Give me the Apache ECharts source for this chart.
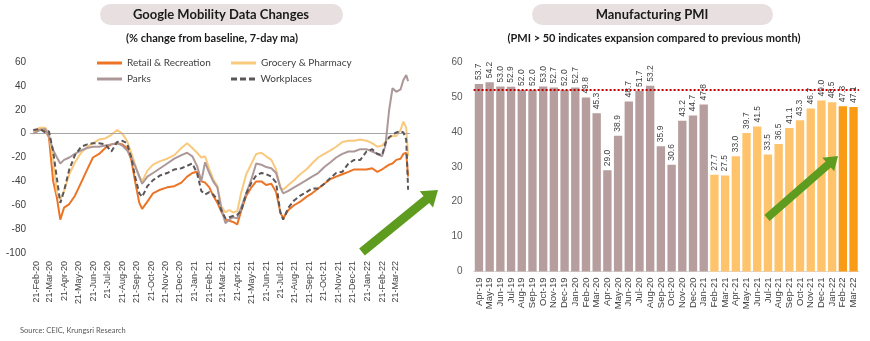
<!DOCTYPE html>
<html><head><meta charset="utf-8">
<script src="https://cdn.jsdelivr.net/npm/echarts@6/dist/echarts.min.js"></script>
<style>html,body{margin:0;padding:0;background:#fff;}#c{width:870px;height:341px;}</style>
</head><body><div id="c"></div>
<script>
// ---------- DATA ----------
const mobilityDates = ['2020-02-15','2020-02-29','2020-03-11','2020-03-19','2020-03-28','2020-04-05','2020-04-12','2020-04-20','2020-05-01','2020-05-13','2020-05-26','2020-06-08','2020-06-20','2020-07-03','2020-07-16','2020-07-29','2020-08-10','2020-08-21','2020-08-31','2020-09-09','2020-09-17','2020-09-26','2020-10-02','2020-10-13','2020-10-25','2020-11-09','2020-11-24','2020-12-09','2020-12-24','2021-01-05','2021-01-16','2021-01-26','2021-02-04','2021-02-12','2021-02-21','2021-03-01','2021-03-10','2021-03-18','2021-03-27','2021-04-04','2021-04-12','2021-04-21','2021-04-29','2021-05-10','2021-05-21','2021-05-31','2021-06-11','2021-06-21','2021-07-02','2021-07-12','2021-07-21','2021-07-27','2021-08-07','2021-08-19','2021-09-01','2021-09-14','2021-09-26','2021-10-09','2021-10-22','2021-11-04','2021-11-16','2021-11-29','2021-12-12','2021-12-24','2022-01-06','2022-01-19','2022-01-31','2022-02-11','2022-02-21','2022-02-28','2022-03-08','2022-03-15','2022-03-23','2022-04-01','2022-04-07','2022-04-13','2022-04-17'];
const retailRecreation = [2,4,3,-3,-40,-54,-72,-62,-59,-52,-41,-30,-20,-17,-12,-9,-8,-9,-12,-22,-40,-58,-63,-57,-50,-47,-45,-44,-41,-36,-33,-32,-40,-41,-45,-52,-58,-65,-72,-73,-74,-76,-65,-52,-45,-40,-40,-43,-42,-49,-66,-71,-64,-60,-57,-53,-50,-46,-42,-38,-36,-34,-32,-30,-30,-30,-29,-32,-30,-28,-26,-25,-22,-21,-17,-16,-36];
const groceryPharmacy = [2,5,5,0,-22,-50,-55,-48,-34,-24,-16,-11,-8,-5,-4,-1,3,0,-6,-16,-26,-36,-40,-31,-26,-23,-21,-18,-12,-8,-12,-16,-20,-19,-30,-38,-44,-61,-66,-64,-66,-65,-50,-34,-25,-17,-16,-19,-22,-30,-45,-47,-43,-39,-34,-30,-25,-20,-17,-14,-11,-7,-6,-6,-5,-6,-8,-11,-10,-7,-3,-2,-2,3,10,5,-19];
const parks = [0,3,4,-2,-14,-20,-25,-22,-20,-17,-14,-12,-11,-11,-10,-9,-8,-10,-14,-20,-27,-36,-42,-36,-33,-29,-25,-21,-18,-16,-19,-27,-40,-24,-33,-40,-45,-62,-75,-72,-70,-71,-62,-50,-38,-25,-26,-28,-29,-33,-45,-50,-48,-45,-42,-39,-36,-33,-28,-24,-20,-17,-15,-15,-13,-13,-15,-17,-19,-10,20,38,35,37,45,49,44];
const workplaces = [3,4,1,2,-15,-38,-58,-48,-30,-18,-11,-9,-8,-8,-9,-15,-7,-6,-8,-20,-36,-50,-53,-44,-39,-35,-33,-30,-29,-27,-25,-33,-48,-51,-49,-51,-55,-64,-71,-70,-69,-68,-65,-50,-41,-35,-33,-34,-36,-41,-66,-72,-62,-56,-52,-49,-46,-46,-42,-37,-33,-32,-25,-22,-22,-15,-13,-17,-18,-8,-3,-1,1,2,1,-5,-47];
const mobilityTickDates = ['2020-02-21','2020-03-21','2020-04-21','2020-05-21','2020-06-21','2020-07-21','2020-08-21','2020-09-21','2020-10-21','2020-11-21','2020-12-21','2021-01-21','2021-02-21','2021-03-21','2021-04-21','2021-05-21','2021-06-21','2021-07-21','2021-08-21','2021-09-21','2021-10-21','2021-11-21','2021-12-21','2022-01-21','2022-02-21','2022-03-21'];
const mobilitySeriesNames = ['Retail & Recreation','Grocery & Pharmacy','Parks','Workplaces'];

const pmiMonths = ['Apr-19','May-19','Jun-19','Jul-19','Aug-19','Sep-19','Oct-19','Nov-19','Dec-19','Jan-20','Feb-20','Mar-20','Apr-20','May-20','Jun-20','Jul-20','Aug-20','Sep-20','Oct-20','Nov-20','Dec-20','Jan-21','Feb-21','Mar-21','Apr-21','May-21','Jun-21','Jul-21','Aug-21','Sep-21','Oct-21','Nov-21','Dec-21','Jan-22','Feb-22','Mar-22'];
const pmiValues = [53.7,54.2,53.0,52.9,52.0,52.0,53.0,52.7,52.0,52.7,49.8,45.3,29.0,38.9,48.7,51.7,53.2,35.9,30.6,43.2,44.7,47.8,27.7,27.5,33.0,39.7,41.5,33.5,36.5,41.1,43.3,46.7,49.0,48.5,47.3,47.1];
const pmiReferenceLevel = 52.1;

// ---------- HELPERS ----------
const MON = ['Jan','Feb','Mar','Apr','May','Jun','Jul','Aug','Sep','Oct','Nov','Dec'];
const DAY = 86400000;
function t(s){ const p = s.split('-').map(Number); return Date.UTC(p[0], p[1]-1, p[2]) / DAY; }
function pairs(vals){ return mobilityDates.map((d,i)=>[t(d), vals[i]]); }
function fmtDate(v){ const d = new Date(Math.round(v) * DAY); return d.getUTCDate()+'-'+MON[d.getUTCMonth()]+'-'+String(d.getUTCFullYear()).slice(2); }
function arrow(x1,y1,x2,y2,shaft,headW,headL){
  const dx=x2-x1, dy=y2-y1, L=Math.hypot(dx,dy), ux=dx/L, uy=dy/L, px=-uy, py=ux;
  const bx=x2-ux*headL, by=y2-uy*headL;
  return [[x1+px*shaft/2,y1+py*shaft/2],[bx+px*shaft/2,by+py*shaft/2],[bx+px*headW/2,by+py*headW/2],[x2,y2],[bx-px*headW/2,by-py*headW/2],[bx-px*shaft/2,by-py*shaft/2],[x1-px*shaft/2,y1-py*shaft/2]];
}
function pmiColor(i){
  const m = pmiMonths[i]; const yr = +m.slice(4); const mi = MON.indexOf(m.slice(0,3));
  const key = yr*12+mi;
  if (key < 21*12+1) return '#B59E9D';
  if (key < 22*12+1) return '#FFC46B';
  return '#F99B14';
}

const lineColors = ['#EC7424','#F9C97E','#AD9899','#5B5659'];
const seriesVals = [retailRecreation, groceryPharmacy, parks, workplaces];

const chart = echarts.init(document.getElementById('c'), null, {renderer:'canvas'});

const lineSeries = mobilitySeriesNames.map((name,i)=>{
  const s = {
    name, type:'line', xAxisIndex:0, yAxisIndex:0, data: pairs(seriesVals[i]),
    symbol:'none', showSymbol:false, smooth:false,
    lineStyle:{color:lineColors[i], width:2, type: i===3 ? [5,3] : 'solid'},
    itemStyle:{color:lineColors[i]},
    z: 3+i
  };
  if (i===0) s.markLine = {silent:true, symbol:'none', label:{show:false},
    lineStyle:{color:'#A6A6A6', width:1, type:'solid'}, data:[{yAxis:0}]};
  return s;
});

const solidIcon = 'path://M0,0h25v3h-25z';
const dashIcon = 'path://M0,0h6v3h-6z M9,0h6v3h-6z M18,0h6v3h-6z';
const legendBase = {itemWidth:25, itemHeight:3, itemGap:4, padding:0,
  textStyle:{fontFamily:'Lato', fontSize:10, color:'#404040'}, selectedMode:false};
function lg(left, top, name, icon){ return Object.assign({left, top, data:[{name, icon}]}, legendBase); }

const option = {
  animation:false,
  backgroundColor:'#ffffff',
  textStyle:{fontFamily:'Liberation Sans'},
  legend:[
    lg(97, 58, 'Retail & Recreation', solidIcon),
    lg(231, 58, 'Grocery & Pharmacy', solidIcon),
    lg(97, 74, 'Parks', solidIcon),
    lg(231, 74, 'Workplaces', dashIcon)
  ],
  grid:[
    {left:30, top:62, width:380, height:191},
    {left:473.6, top:62, width:385.3, height:209.5}
  ],
  xAxis:[
    {type:'value', gridIndex:0, min:t('2020-02-08'), max:t('2022-04-21'),
      axisLine:{show:false}, axisTick:{show:false}, splitLine:{show:false},
      axisLabel:{customValues: mobilityTickDates.map(t), formatter: fmtDate, rotate:90,
        fontSize:9, color:'#404040', margin:8, fontFamily:'Liberation Sans', showMinLabel:true, showMaxLabel:true}},
    {type:'category', gridIndex:1, data:pmiMonths, boundaryGap:true,
      axisLine:{show:true, lineStyle:{color:'#D9D9D9', width:1}}, axisTick:{show:false},
      axisLabel:{interval:0, rotate:90, fontSize:9.5, color:'#404040', margin:6, fontFamily:'Liberation Sans'}}
  ],
  yAxis:[
    {type:'value', gridIndex:0, min:-100, max:60, interval:20,
      axisLine:{show:false}, axisTick:{show:false}, splitLine:{show:false},
      axisLabel:{fontSize:10, color:'#404040', margin:4, fontFamily:'Liberation Sans'}},
    {type:'value', gridIndex:1, min:0, max:60, interval:10,
      axisLine:{show:false}, axisTick:{show:false}, splitLine:{show:false},
      axisLabel:{fontSize:10, color:'#595959', margin:11, fontFamily:'Liberation Sans'}}
  ],
  series: lineSeries.concat([{
    name:'PMI', type:'bar', xAxisIndex:1, yAxisIndex:1,
    data: pmiValues.map((v,i)=>({value:v, itemStyle:{color:pmiColor(i)}})),
    barCategoryGap:'22%',
    label:{show:true, position:'top', rotate:90, align:'left', verticalAlign:'middle', distance:4,
      formatter:p=>p.value.toFixed(1), fontSize:8.5, color:'#404040', fontFamily:'Liberation Sans'},
    markLine:{silent:true, symbol:'none', label:{show:false},
      lineStyle:{color:'#C00000', width:2, type:[2,2]}, data:[{yAxis:pmiReferenceLevel}]}
  }]),
  graphic:[
    {type:'rect', shape:{x:100, y:4, width:243, height:21, r:10.5}, style:{fill:'#E8E0E0'}, z:0},
    {type:'text', style:{text:'Google Mobility Data Changes', x:221, y:15, textAlign:'center', textVerticalAlign:'middle', font:'bold 13px Lato', fill:'#1A1A1A'}},
    {type:'text', style:{text:'(% change from baseline, 7-day ma)', x:212, y:38, textAlign:'center', textVerticalAlign:'middle', font:'bold 11px Lato', fill:'#1A1A1A'}},
    {type:'rect', shape:{x:532, y:4, width:241, height:21, r:10.5}, style:{fill:'#E8E0E0'}, z:0},
    {type:'text', style:{text:'Manufacturing PMI', x:652, y:15, textAlign:'center', textVerticalAlign:'middle', font:'bold 13px Lato', fill:'#1A1A1A'}},
    {type:'text', style:{text:'(PMI > 50 indicates expansion compared to previous month)', x:654, y:38, textAlign:'center', textVerticalAlign:'middle', font:'bold 11px Lato', fill:'#1A1A1A'}},
    {type:'text', style:{text:'Source: CEIC, Krungsri Research', x:20, y:331, textVerticalAlign:'middle', font:'7.5px Lato', fill:'#595959'}},
    {type:'polygon', shape:{points:arrow(362,252,438,190,9,21,15)}, style:{fill:'#5E9C1F'}, z:20},
    {type:'polygon', shape:{points:arrow(767,218,838,156,8,18,13)}, style:{fill:'#5E9C1F'}, z:20}
  ]
};
chart.setOption(option);
</script>
</body></html>
